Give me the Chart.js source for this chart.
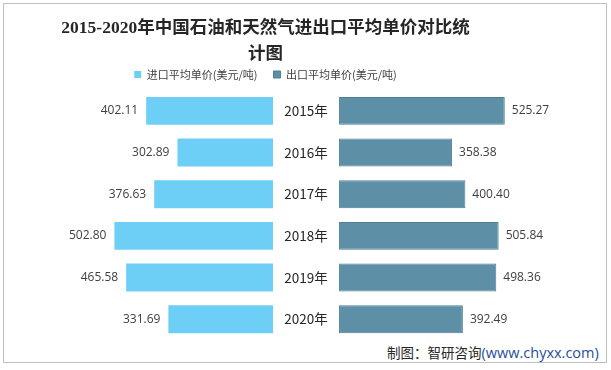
<!DOCTYPE html>
<html>
<head>
<meta charset="utf-8">
<script src="https://cdn.jsdelivr.net/npm/chart.js@4/dist/chart.umd.min.js"></script>
<style>
  body { margin: 0; background: #fff; }
  #wrap { position: relative; width: 611px; height: 370px; }
  #frame { position: absolute; left: 3px; top: 3px; width: 602px; height: 358px; border: 1px solid #bfbfbf; }
  #chart { position: absolute; left: 0; top: 0; }
  #note { position: absolute; left: 387px; top: 342px; font: 13.5px "Noto Sans CJK SC", sans-serif; color: #262626; background: #fff; white-space: nowrap; }
  #note span { color: #1f4e9a; font-family: "Open Sans", "Noto Sans CJK SC", sans-serif; font-size: 14.5px; }
</style>
</head>
<body>
<div id="wrap">
  <div id="frame"></div>
  <canvas id="chart" width="611" height="370"></canvas>
  <div id="note">制图：智研咨询<span>(www.chyxx.com)</span></div>
</div>
<script>
// 年份与两组单价（美元/吨）
const years = ['2015年', '2016年', '2017年', '2018年', '2019年', '2020年'];
const importPrice = [402.11, 302.89, 376.63, 502.80, 465.58, 331.69];
const exportPrice = [525.27, 358.38, 400.40, 505.84, 498.36, 392.49];
const seriesNames = ['进口平均单价(美元/吨)', '出口平均单价(美元/吨)'];

// 中间留给年份的空隙（数值单位）
const GAP = 104.6;

const labelFont = '"Open Sans", "Noto Sans CJK SC", sans-serif';

// 画数值和中间的年份
const labelPlugin = {
  id: 'labels',
  afterDatasetsDraw(chart) {
    const ctx = chart.ctx;
    const xs = chart.scales.x;
    const cx = xs.getPixelForValue(0);
    ctx.save();
    ctx.textBaseline = 'middle';
    chart.getDatasetMeta(0).data.forEach((bar, i) => {
      const p = bar.getProps(['x', 'base', 'y'], true);
      ctx.font = '12px ' + labelFont;
      ctx.fillStyle = '#404040';
      ctx.textAlign = 'right';
      ctx.fillText(importPrice[i].toFixed(2), Math.min(p.x, p.base) - 8, p.y);
      ctx.font = '13.5px "Noto Sans CJK SC", sans-serif';
      ctx.fillStyle = '#262626';
      ctx.textAlign = 'center';
      ctx.fillText(years[i], cx, p.y);
    });
    chart.getDatasetMeta(1).data.forEach((bar, i) => {
      const p = bar.getProps(['x', 'base', 'y'], true);
      ctx.font = '12px ' + labelFont;
      ctx.fillStyle = '#404040';
      ctx.textAlign = 'left';
      ctx.fillText(exportPrice[i].toFixed(2), Math.max(p.x, p.base) + 7, p.y);
    });
    ctx.restore();
  }
};

new Chart(document.getElementById('chart'), {
  type: 'bar',
  data: {
    labels: years,
    datasets: [
      {
        label: seriesNames[0],
        data: importPrice.map(v => [-(GAP + v), -GAP]),
        backgroundColor: '#6dcff6',
        grouped: false,
        barPercentage: 0.67,
        categoryPercentage: 1
      },
      {
        label: seriesNames[1],
        data: exportPrice.map(v => [GAP, GAP + v]),
        backgroundColor: '#5d90a7',
        borderColor: '#4d7e94',
        borderWidth: 1,
        borderSkipped: false,
        grouped: false,
        barPercentage: 0.67,
        categoryPercentage: 1
      }
    ]
  },
  options: {
    indexAxis: 'y',
    responsive: false,
    animation: false,
    layout: { padding: { left: 0, right: 80, top: 0, bottom: 30 } },
    scales: {
      x: { display: false, min: -970, max: 713 },
      y: { display: false }
    },
    plugins: {
      title: {
        display: true,
        text: ['2015-2020年中国石油和天然气进出口平均单价对比统', '计图'],
        font: { family: '"Liberation Serif", "Noto Sans CJK SC", serif', size: 17.5, weight: 'bold', lineHeight: 1.5 },
        color: '#262626',
        padding: { top: 15, bottom: -14.5 }
      },
      legend: {
        labels: {
          boxWidth: 7,
          boxHeight: 7,
          padding: 16,
          color: '#404040',
          font: { family: '"Noto Sans CJK SC", sans-serif', size: 11 }
        }
      },
      tooltip: { enabled: false }
    }
  },
  plugins: [labelPlugin]
});
</script>
</body>
</html>
